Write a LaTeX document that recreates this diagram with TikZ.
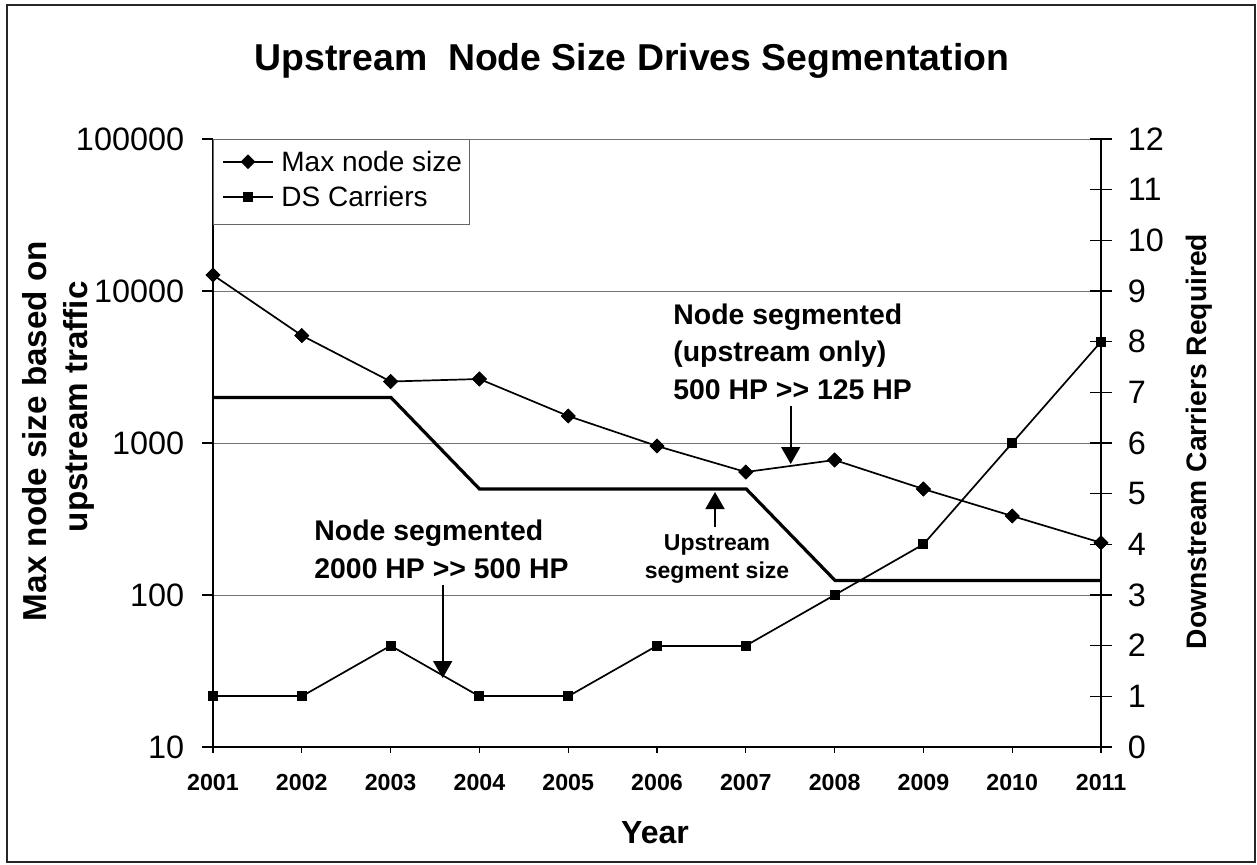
\documentclass[tikz,border=0pt]{standalone}
\usepackage{fontspec}
\setmainfont{Liberation Sans}
\usetikzlibrary{shapes.geometric,arrows.meta}
\newcommand{\fsz}[2]{\fontsize{#1}{#2}\selectfont}
\newcommand{\gtgt}{>{}>}

\begin{document}
\begin{tikzpicture}[x=0.5pt,y=-0.5pt,
  frame/.style={draw=black!85,line width=1pt},
  grid/.style={draw=black!55,line width=0.5pt},
  axis/.style={draw=black,line width=0.6pt},
  dataline/.style={draw=black,line width=0.85pt},
  segline/.style={draw=black,line width=1.6pt},
  diam/.style={diamond,fill=black,inner sep=0pt,minimum width=7.6pt,minimum height=7.6pt},
  sq/.style={rectangle,fill=black,inner sep=0pt,minimum size=5pt},
  ticklab/.style={inner sep=0pt,font=\fsz{16.2pt}{19pt}},
  yearlab/.style={inner sep=0pt,anchor=base,font=\bfseries\fsz{11.6pt}{14pt}},
  axtitle/.style={inner sep=0pt,font=\bfseries\fsz{16.6pt}{20pt}},
  note/.style={inner sep=0pt,align=left,anchor=base west,font=\bfseries\fsz{14.2pt}{18.8pt}},
  smallnote/.style={inner sep=0pt,align=center,font=\bfseries\fsz{11.5pt}{14pt}},
  pointer/.style={draw=black,line width=0.8pt,-{Triangle[width=9.5pt,length=8.5pt]}}]

\useasboundingbox (0,0) rectangle (1257,864);
\draw[frame] (7,5) rectangle (1255,862);

% title
\node[inner sep=0pt,anchor=base,font=\bfseries\fsz{18.7pt}{22pt}] (title) at (632,70)
  {Upstream\ \ Node Size Drives Segmentation};

% horizontal grid (log decades)
\foreach \y in {139,291,443,595}
  \draw[grid] (213,\y) -- (1101,\y);

% axes
\draw[axis] (213,139) -- (213,753.3);
\draw[axis] (1101,139) -- (1101,753.3);
\draw[axis] (213,747) -- (1101,747);

% left log axis: ticks and labels
\foreach \v/\y in {100000/139,10000/291,1000/443,100/595,10/747}{
  \draw[axis] (202,\y) -- (213,\y);
  \node[ticklab,anchor=east] (l\v) at (184.5,\y) {\v};
}

% right linear axis: ticks and labels
\foreach \i in {0,...,12}{
  \draw[axis] (1090,{747-50.667*\i}) -- (1112,{747-50.667*\i});
  \node[ticklab,anchor=west] (r\i) at (1127.5,{747-50.667*\i}) {\i};
}

% year ticks and labels
\foreach \i in {0,...,10}{
  \draw[axis] ({213+88.8*\i},747) -- ({213+88.8*\i},753.3);
  \pgfmathtruncatemacro{\yr}{2001+\i}
  \node[yearlab] (yr\i) at ({213+88.8*\i},790) {\yr};
}

% axis titles
\node[axtitle,anchor=base,font=\bfseries\fsz{16pt}{20pt}] (xtitle) at (655,843) {Year};
\node[axtitle,rotate=90,anchor=base] (ytitleA) at (46.7,431) {Max node size based on};
\node[axtitle,rotate=90,anchor=base] (ytitleB) at (87,406.7) {upstream traffic};
\node[axtitle,rotate=90,anchor=base,font=\bfseries\fsz{14.1pt}{17pt}] (y2title) at (1206.7,441.5)
  {Downstream Carriers Required};

% upstream segment size (thick step line)
\coordinate (g0) at (213,397.5);
\coordinate (g1) at (391,397.5);
\coordinate (g2) at (479.4,488.9);
\coordinate (g3) at (746.2,488.9);
\coordinate (g4) at (835,580.4);
\coordinate (g5) at (1101,580.4);
\draw[segline,line join=miter] (g0) -- (g1) -- (g2) -- (g3) -- (g4) -- (g5);

% max node size series (diamonds, left axis)
\foreach \i/\y in {0/275,1/335.5,2/381.5,3/379,4/416,5/446,6/472,7/460,8/489,9/516,10/542.7}
  \node[diam] (d\i) at ({213+88.8*\i},\y) {};
\foreach \i [count=\j from 1] in {0,...,9}
  \draw[dataline] (d\i.center) -- (d\j.center);

% DS carriers series (squares, right axis)
\foreach \i/\y in {0/696.3,1/696.3,2/645.7,3/696.3,4/696.3,5/645.7,6/645.7,7/595,8/544.3,9/443,10/341.7}
  \node[sq] (s\i) at ({213+88.8*\i},\y) {};
\foreach \i [count=\j from 1] in {0,...,9}
  \draw[dataline] (s\i.center) -- (s\j.center);

% markers again on top of the lines
\foreach \i/\y in {0/275,1/335.5,2/381.5,3/379,4/416,5/446,6/472,7/460,8/489,9/516,10/542.7}
  \node[diam] at ({213+88.8*\i},\y) {};
\foreach \i/\y in {0/696.3,1/696.3,2/645.7,3/696.3,4/696.3,5/645.7,6/645.7,7/595,8/544.3,9/443,10/341.7}
  \node[sq] at ({213+88.8*\i},\y) {};

% legend
\draw[draw=black!60,fill=white,line width=0.5pt] (213,139) rectangle (469.3,224.3);
\coordinate (la) at (223.3,161.7);
\coordinate (lb) at (272.7,161.7);
\coordinate (lc) at (223.3,196.7);
\coordinate (ld) at (272.7,196.7);
\draw[dataline] (la) -- (lb);
\draw[dataline] (lc) -- (ld);
\node[diam] (legd) at (248,161.7) {};
\node[sq] (legs) at (248,196.7) {};
\node[inner sep=0pt,anchor=base west,font=\fsz{14pt}{17pt}] (legA) at (281,171.7) {Max node size};
\node[inner sep=0pt,anchor=base west,font=\fsz{14pt}{17pt}] (legB) at (281,206.7) {DS Carriers};

% annotations (base anchor sits on the last line)
\node[note] (noteA) at (314,578.3) {Node segmented\\2000 HP \gtgt{} 500 HP};
\coordinate (noteAtail) at (442.7,585);
\coordinate (noteAtip) at (442.7,678);
\draw[pointer] (noteAtail) -- (noteAtip);

\node[note] (noteB) at (673,399.3) {Node segmented\\(upstream only)\\500 HP \gtgt{} 125 HP};
\coordinate (noteBtail) at (790.7,406);
\coordinate (noteBtip) at (790.7,464);
\draw[pointer] (noteBtail) -- (noteBtip);

\node[smallnote,anchor=base] (noteC) at (717,578) {Upstream\\segment size};
\coordinate (noteCtail) at (715,527);
\coordinate (noteCtip) at (715,492);
\draw[pointer] (noteCtail) -- (noteCtip);

\end{tikzpicture}
\end{document}
